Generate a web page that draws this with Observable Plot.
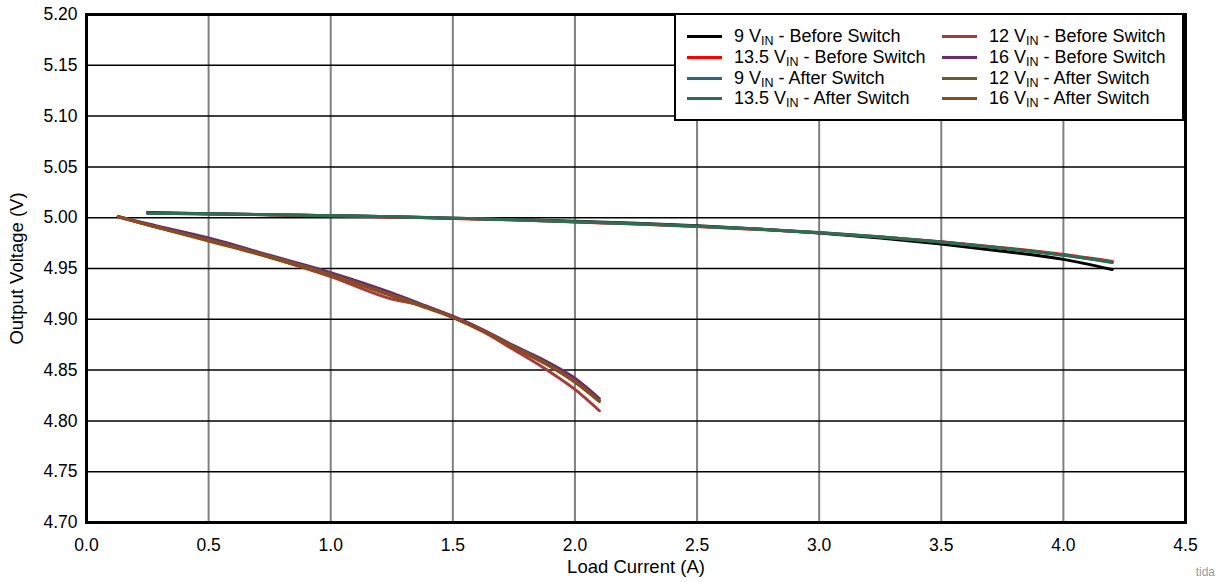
<!DOCTYPE html>
<html>
<head>
<meta charset="utf-8">
<script src="https://cdn.jsdelivr.net/npm/d3@7"></script>
<script src="https://cdn.jsdelivr.net/npm/@observablehq/plot@0.6"></script>
<style>
  body { margin: 0; background: #fff; font-family: "Liberation Sans", Arial, sans-serif; }
  #wrap { position: relative; width: 1219px; height: 582px; }
  #legend { position: absolute; left: 674px; top: 13px; width: 506px; height: 104px;
    border: 2.5px solid #000; background: #fff; font-size: 18px; color: #000; }
  .item { position: absolute; white-space: nowrap; line-height: 20px; }
  .item .sw { position: absolute; top: 9px; width: 35px; height: 3px; }
  .item .tx { position: absolute; left: 47px; top: 0; }
  sub { font-size: 12.5px; vertical-align: -3px; line-height: 0; }
  #wm { position: absolute; right: 4px; bottom: 3px; font-size: 12px; color: #999; }
</style>
</head>
<body>
<div id="wrap">
  <div id="chart"></div>
  <div id="legend"></div>
  <div id="wm">tida</div>
</div>
<script>
const seriesNames = [
  "9 V_IN - Before Switch", "12 V_IN - Before Switch",
  "13.5 V_IN - Before Switch", "16 V_IN - Before Switch",
  "9 V_IN - After Switch", "12 V_IN - After Switch",
  "13.5 V_IN - After Switch", "16 V_IN - After Switch"
];
const seriesColors = ["#000000", "#a83c3c", "#ff0000", "#6b2c6b", "#2e6582", "#6e5a2f", "#2e6e4e", "#8c4a1e"];

const currentHigh = [0.25,0.5,0.75,1.0,1.25,1.5,1.75,2.0,2.25,2.5,2.75,3.0,3.25,3.5,3.75,4.0,4.2];
const v9Before   = [5.0050,5.0040,5.0030,5.0020,5.0010,4.9995,4.9982,4.9965,4.9945,4.9920,4.9890,4.9850,4.9800,4.9740,4.9670,4.9590,4.9490];
const v135Before = [5.0045,5.0037,5.0029,5.0019,5.0008,4.9993,4.9978,4.9958,4.9938,4.9913,4.9885,4.9852,4.9810,4.9763,4.9705,4.9637,4.9570];
const v9After    = [5.0046,5.0038,5.0030,5.0020,5.0009,4.9995,4.9980,4.9960,4.9940,4.9915,4.9887,4.9853,4.9810,4.9760,4.9700,4.9630,4.9560];
const v135After  = [5.0045,5.0038,5.0030,5.0020,5.0009,4.9995,4.9980,4.9960,4.9940,4.9916,4.9888,4.9855,4.9812,4.9762,4.9702,4.9633,4.9562];

const currentLow = [0.13,0.25,0.5,0.75,1.0,1.25,1.37,1.5,1.63,1.75,1.88,2.0,2.1];
const v12Before = [5.001,4.993,4.978,4.961,4.942,4.920,4.914,4.902,4.887,4.870,4.851,4.831,4.810];
const v16Before = [5.001,4.994,4.980,4.963,4.946,4.926,4.915,4.903,4.889,4.874,4.859,4.842,4.822];
const v12After  = [5.001,4.993,4.978,4.962,4.944,4.924,4.914,4.902,4.888,4.873,4.857,4.839,4.820];
const v16After  = [5.001,4.993,4.977,4.961,4.943,4.923,4.913,4.902,4.888,4.872,4.856,4.838,4.819];

const xTicks = [0,0.5,1.0,1.5,2.0,2.5,3.0,3.5,4.0,4.5];
const yTicks = [4.70,4.75,4.80,4.85,4.90,4.95,5.00,5.05,5.10,5.15,5.20];

const seriesData = [
  [currentHigh, v9Before], [currentLow, v12Before], [currentHigh, v135Before], [currentLow, v16Before],
  [currentHigh, v9After], [currentLow, v12After], [currentHigh, v135After], [currentLow, v16After]
];
const rows = [];
seriesData.forEach(([xs, ys], i) => xs.forEach((x, j) => rows.push({x, y: ys[j], s: seriesNames[i]})));

const chart = Plot.plot({
  width: 1219, height: 582,
  marginLeft: 86, marginRight: 34, marginTop: 14, marginBottom: 60,
  style: {fontFamily: "Liberation Sans, Arial, sans-serif", fontSize: "17.5px", color: "#000", background: "#fff"},
  x: {domain: [0, 4.5]},
  y: {domain: [4.70, 5.20]},
  color: {domain: seriesNames, range: seriesColors},
  marks: [
    Plot.ruleX(xTicks, {stroke: "#808080", strokeWidth: 2}),
    Plot.ruleY(yTicks, {stroke: "#000", strokeWidth: 1.5}),
    Plot.line(rows, {x: "x", y: "y", z: "s", stroke: "s", strokeWidth: 3, curve: "monotone-x"}),
    Plot.axisX({ticks: xTicks, tickFormat: d3.format(".1f"), tickSize: 0, tickPadding: 16, label: null, fontSize: 17.5}),
    Plot.axisX({ticks: [], tickSize: 0, label: "Load Current (A)", labelAnchor: "center", labelArrow: "none", labelOffset: 50, fontSize: 18.5}),
    Plot.axisY({ticks: yTicks, tickFormat: d3.format(".2f"), tickSize: 0, tickPadding: 9, label: null, fontSize: 17.5}),
    Plot.axisY({ticks: [], tickSize: 0, label: "Output Voltage (V)", labelAnchor: "center", labelArrow: "none", labelOffset: 77, fontSize: 18.5}),
    Plot.frame({stroke: "#000", strokeWidth: 3})
  ]
});
document.getElementById("chart").appendChild(chart);

const legend = document.getElementById("legend");
const fmt = n => {
  const [a, b] = n.split("V_IN");
  return `${a}V<sub>IN</sub>${b}`;
};
seriesNames.forEach((n, i) => {
  const col = i % 2, row = Math.floor(i / 2);
  const d = document.createElement("div");
  d.className = "item";
  d.style.left = (col === 0 ? 11 : 266) + "px";
  d.style.top = (11 + row * 20.8) + "px";
  d.innerHTML = `<span class="sw" style="background:${seriesColors[i]}"></span><span class="tx">${fmt(n)}</span>`;
  legend.appendChild(d);
});
</script>
</body>
</html>
